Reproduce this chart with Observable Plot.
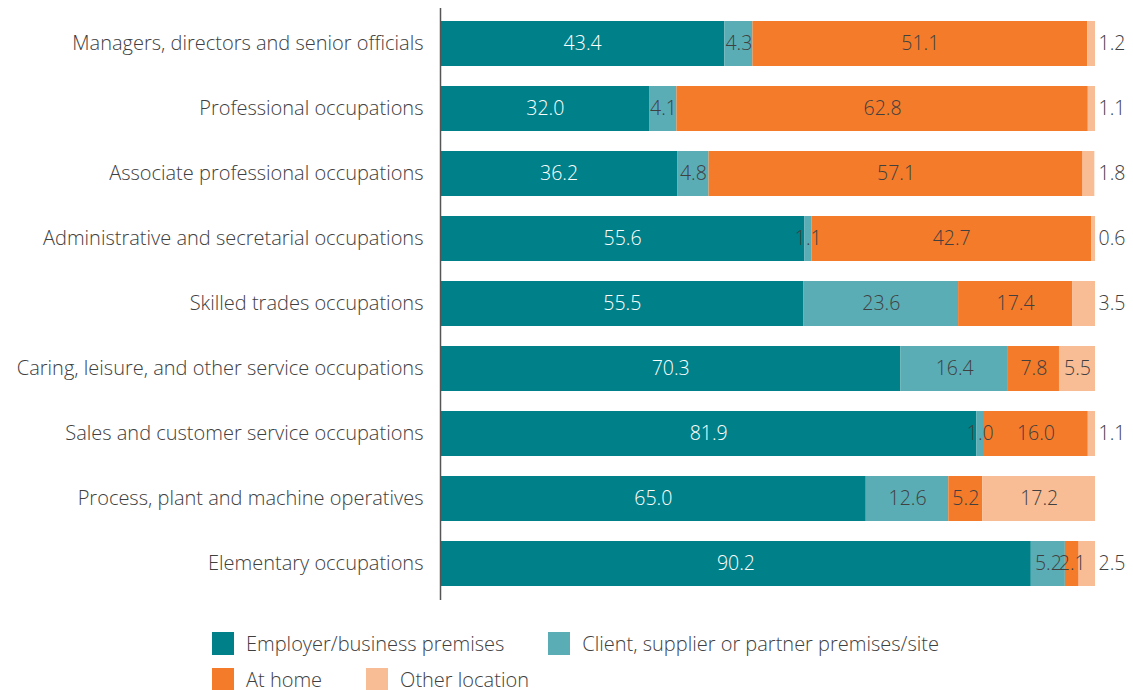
<!DOCTYPE html>
<html><head><meta charset="utf-8">
<script src="https://cdn.jsdelivr.net/npm/d3@7"></script>
<script src="https://cdn.jsdelivr.net/npm/@observablehq/plot@0.6"></script>
<style>
body{margin:0;background:#fff;font-family:"Open Sans",sans-serif;color:#404040;position:relative;width:1133px;height:690px;overflow:hidden;}
.lrow{position:absolute;left:212px;display:flex;column-gap:44px;font-size:20px;font-weight:300;line-height:23px;white-space:nowrap;}
.item{display:flex;align-items:center;gap:12px;height:23px;}
.sw{width:22px;height:23px;display:inline-block;}
</style></head><body>
<div id="chart"></div>
<div id="legend"></div>
<script>
const categories = [
  "Managers, directors and senior officials",
  "Professional occupations",
  "Associate professional occupations",
  "Administrative and secretarial occupations",
  "Skilled trades occupations",
  "Caring, leisure, and other service occupations",
  "Sales and customer service occupations",
  "Process, plant and machine operatives",
  "Elementary occupations"
];
const seriesNames = ["Employer/business premises","Client, supplier or partner premises/site","At home","Other location"];
const colors = ["#00818a","#5aadb5","#f47b2a","#f9bd95"];
const employer = [43.4,32.0,36.2,55.6,55.5,70.3,81.9,65.0,90.2];
const client   = [4.3,4.1,4.8,1.1,23.6,16.4,1.0,12.6,5.2];
const atHome   = [51.1,62.8,57.1,42.7,17.4,7.8,16.0,5.2,2.1];
const other    = [1.2,1.1,1.8,0.6,3.5,5.5,1.1,17.2,2.5];
const seriesValues = [employer, client, atHome, other];

const data = [];
seriesNames.forEach((s, si) => categories.forEach((c, ci) => data.push({category: c, type: s, value: seriesValues[si][ci], si})));
const outside = d => d.si === 3 && d.value < 5;
const fontFamily = "'Open Sans', sans-serif";

const chart = Plot.plot({
  width: 1133, height: 610,
  marginLeft: 440, marginRight: 38, marginTop: 11, marginBottom: 14,
  style: {fontFamily, fontSize: "18px", color: "#404040", fontWeight: 300},
  x: {domain: [0, 100], axis: null},
  y: {domain: categories, paddingInner: 0.31, paddingOuter: 0.155, label: null, axis: null},
  color: {domain: seriesNames, range: colors},
  marks: [
    Plot.barX(data, Plot.stackX({x: "value", y: "category", fill: "type", order: seriesNames})),
    Plot.text(data, Plot.stackX({x: "value", y: "category", z: "type", order: seriesNames,
      text: d => outside(d) ? "" : d.value.toFixed(1),
      fill: d => d.si === 0 ? "white" : "#404040", fontSize: 19.5, fontWeight: 300})),
    Plot.text(data.filter(outside), {x: 100, y: "category", text: d => d.value.toFixed(1), textAnchor: "start", dx: 3, fill: "#404040", fontSize: 19.5, fontWeight: 300}),
    Plot.ruleX([0], {stroke: "#555", strokeWidth: 1.5, insetTop: -3, insetBottom: -4}),
    Plot.axisY({tickSize: 0, tickPadding: 17, fontSize: 20, fontWeight: 300, label: null, fill: "#404040"})
  ]
});
document.getElementById("chart").append(chart);

const lg = document.getElementById("legend");
const legendRows = [[0, 1], [2, 3]];
const rowTops = [632, 668];
legendRows.forEach((r, ri) => {
  const row = document.createElement("div"); row.className = "lrow"; row.style.top = rowTops[ri] + "px";
  r.forEach(i => {
    const it = document.createElement("div"); it.className = "item";
    const sw = document.createElement("span"); sw.className = "sw"; sw.style.background = colors[i];
    const t = document.createElement("span"); t.textContent = seriesNames[i];
    it.append(sw, t); row.append(it);
  });
  lg.append(row);
});
</script></body></html>
